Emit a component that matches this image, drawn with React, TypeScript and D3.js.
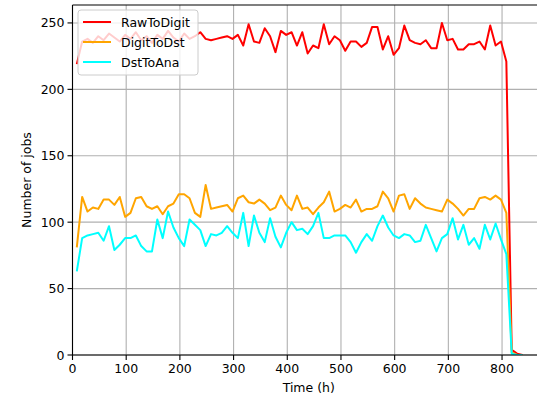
import React from "react";
import * as d3 from "d3";

// time stamps in hours
const HOURS = [
  8, 18, 28, 38, 48, 58, 68, 78, 88, 98, 108, 118, 128, 138, 148, 158, 168, 178, 188, 198,
  208, 218, 228, 238, 248, 258, 268, 278, 288, 298, 308, 318, 328, 338, 348, 358, 368, 378, 388, 398,
  408, 418, 428, 438, 448, 458, 468, 478, 488, 498, 508, 518, 528, 538, 548, 558, 568, 578, 588, 598,
  608, 618, 628, 638, 648, 658, 668, 678, 688, 698, 708, 718, 728, 738, 748, 758, 768, 778, 788, 798,
  808, 818, 828, 838,
];

const RAW_TO_DIGIT = [
  219, 236, 238, 235, 240, 237, 242, 239, 236, 241, 238, 243, 237, 240, 235, 241, 238, 244, 239, 236,
  242, 238, 240, 243, 238, 237, 238, 239, 240, 238, 241, 233, 249, 236, 235, 246, 240, 228, 244, 241,
  243, 233, 243, 227, 233, 231, 249, 234, 240, 237, 229, 236, 236, 232, 235, 247, 247, 230, 240, 226,
  231, 248, 237, 235, 234, 237, 231, 231, 250, 237, 238, 230, 230, 234, 234, 236, 230, 248, 233, 236,
  221, 4, 1, 0,
];

const DIGIT_TO_DST = [
  81, 119, 108, 111, 110, 117, 117, 113, 119, 104, 107, 118, 119, 112, 110, 112, 106, 112, 114, 121,
  121, 118, 107, 104, 128, 110, 111, 112, 113, 108, 118, 120, 115, 114, 117, 114, 109, 111, 120, 113,
  109, 120, 110, 111, 106, 111, 115, 123, 108, 110, 113, 111, 117, 108, 110, 110, 112, 123, 118, 108,
  120, 121, 110, 118, 114, 111, 110, 109, 108, 117, 114, 110, 105, 110, 110, 118, 119, 117, 120, 117,
  107, 2, 0, 0,
];

const DST_TO_ANA = [
  63, 88, 90, 91, 92, 86, 97, 79, 83, 88, 88, 90, 82, 78, 78, 102, 88, 108, 96, 88,
  82, 102, 98, 94, 82, 91, 90, 92, 97, 92, 88, 107, 82, 105, 92, 85, 103, 89, 81, 92,
  100, 94, 95, 91, 97, 107, 88, 88, 90, 90, 90, 85, 77, 85, 91, 86, 97, 105, 96, 90,
  88, 91, 90, 85, 86, 98, 88, 78, 88, 91, 103, 87, 98, 83, 88, 80, 98, 87, 99, 87,
  76, 1, 0, 0,
];

const SERIES = [
  { name: "RawToDigit", values: RAW_TO_DIGIT, color: "#ff0000" },
  { name: "DigitToDst", values: DIGIT_TO_DST, color: "#ffa500" },
  { name: "DstToAna", values: DST_TO_ANA, color: "#00ffff" },
];

const X_TICKS = [0, 100, 200, 300, 400, 500, 600, 700, 800];
const Y_TICKS = [0, 50, 100, 150, 200, 250];

const W = 537;
const H = 397;
const FONT = "DejaVu Sans, sans-serif";

export default function App() {
  const left = 72.5;
  const right = 545;
  const top = 5;
  const bottom = 355;

  const x = d3.scaleLinear().domain([0, 880]).range([left, right]);
  const y = d3.scaleLinear().domain([0, 263.5]).range([bottom, top]);

  const line = (vals: number[]) =>
    d3
      .line<number>()
      .x((_, i) => x(HOURS[i]))
      .y((d) => y(d))(vals) || "";

  return (
    <div style={{ position: "fixed", left: 0, top: 0 }}>
      <svg width={W} height={H} style={{ display: "block", background: "#fff" }} fontFamily={FONT}>
        <defs>
          <clipPath id="plot">
            <rect x={left} y={top} width={right - left} height={bottom - top} />
          </clipPath>
        </defs>

        {/* grid */}
        {X_TICKS.map((t) => (
          <line key={"gx" + t} x1={x(t)} x2={x(t)} y1={top} y2={bottom} stroke="#b0b0b0" strokeWidth={1.1} />
        ))}
        {Y_TICKS.map((t) => (
          <line key={"gy" + t} x1={left} x2={right} y1={y(t)} y2={y(t)} stroke="#b0b0b0" strokeWidth={1.1} />
        ))}

        {/* series */}
        <g clipPath="url(#plot)">
          {SERIES.map((s) => (
            <path key={s.name} d={line(s.values)} fill="none" stroke={s.color} strokeWidth={2} strokeLinejoin="round" />
          ))}
        </g>

        {/* spines */}
        <line x1={left} x2={left} y1={top} y2={bottom} stroke="#000" strokeWidth={1.1} />
        <line x1={left} x2={right} y1={bottom} y2={bottom} stroke="#000" strokeWidth={1.1} />
        <line x1={left} x2={right} y1={top} y2={top} stroke="#000" strokeWidth={1.1} />

        {/* x ticks */}
        {X_TICKS.map((t) => (
          <g key={"xt" + t}>
            <line x1={x(t)} x2={x(t)} y1={bottom} y2={bottom + 5} stroke="#000" strokeWidth={1.1} />
            <text x={x(t)} y={bottom + 18} textAnchor="middle" fontSize={12.5} fill="#000">
              {t}
            </text>
          </g>
        ))}
        {/* y ticks */}
        {Y_TICKS.map((t) => (
          <g key={"yt" + t}>
            <line x1={left - 5} x2={left} y1={y(t)} y2={y(t)} stroke="#000" strokeWidth={1.1} />
            <text x={left - 8} y={y(t) + 4.5} textAnchor="end" fontSize={12.5} fill="#000">
              {t}
            </text>
          </g>
        ))}

        <text x={(left + right) / 2} y={392} textAnchor="middle" fontSize={12.5} fill="#000">
          Time (h)
        </text>
        <text
          transform={`translate(31,${(top + bottom) / 2}) rotate(-90)`}
          textAnchor="middle"
          fontSize={12.5}
          fill="#000"
        >
          Number of jobs
        </text>

        {/* legend */}
        <rect x={78} y={10} width={120} height={65} rx={3} fill="#fff" fillOpacity={0.8} stroke="#cccccc" strokeWidth={1} />
        {SERIES.map((s, i) => (
          <g key={"lg" + s.name} transform={`translate(0,${22 + i * 20})`}>
            <line x1={83} x2={111} y1={0} y2={0} stroke={s.color} strokeWidth={2} />
            <text x={121} y={4.5} fontSize={12.5} fill="#000">
              {s.name}
            </text>
          </g>
        ))}
      </svg>
    </div>
  );
}
